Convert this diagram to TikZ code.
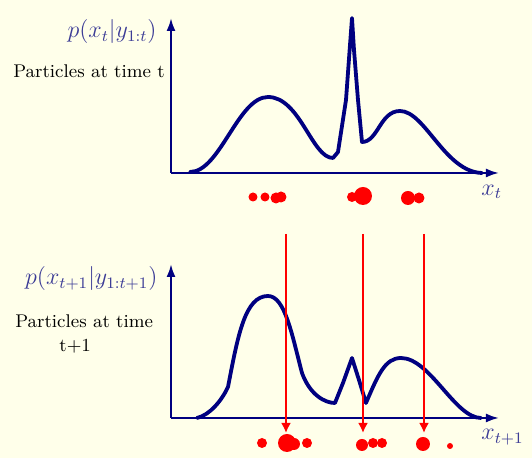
\documentclass[tikz,border=0pt]{standalone}
\usetikzlibrary{arrows.meta}
\definecolor{cream}{RGB}{255,255,234}
\definecolor{navy}{RGB}{0,0,128}
\definecolor{lbl}{RGB}{60,60,150}

\begin{document}
\begin{tikzpicture}[x=0.5pt,y=-0.5pt,
  axis/.style={navy, line width=1.1pt, -{Latex[length=6.5pt,width=4.5pt]}},
  density/.style={navy, line width=1.9pt, line join=round, line cap=round},
  particle/.style={circle, fill=red, inner sep=0pt, draw=none},
  move/.style={red, line width=1pt, -{Latex[length=5pt,width=5pt]}},
  axlabel/.style={lbl, inner sep=0pt, font=\fontsize{11.7}{14}\selectfont},
  caption/.style={inner sep=0pt, font=\fontsize{9.2}{12}\selectfont, align=left}]
  \fill[cream] (0,0) rectangle (532,458);

  % time t
  \coordinate (o1) at (171,173);
  \coordinate (y1) at (171,18);
  \coordinate (x1) at (499,173);
  \draw[axis] (o1) -- (y1);
  \draw[axis] (o1) -- (x1);
  \node[axlabel, anchor=east] (py1) at (157,32) {$p(x_t|y_{1:t})$};
  \node[axlabel, anchor=west] (lx1) at (481,192) {$x_t$};
  \node[caption, anchor=west] (cap1) at (13,71) {Particles at time t};
  \draw[density] (190,172) .. controls (220,172) and (238,97) .. (268,97)
    .. controls (300,97) and (312,158) .. (333,158)
    -- (338,152) -- (346,100) -- (350,45) -- (352,18) -- (354,50) -- (358,100) -- (362,142)
    .. controls (378,142) and (380,111) .. (400,111)
    .. controls (425,111) and (445,172) .. (482,173);

  \node[particle, minimum size=4.5pt] (t1) at (253,197) {};
  \node[particle, minimum size=4.5pt] (t2) at (265,197) {};
  \node[particle, minimum size=5.5pt] (t3) at (276,198) {};
  \node[particle, minimum size=5.5pt] (t4) at (281,197) {};
  \node[particle, minimum size=5pt] (t5) at (352,197) {};
  \node[particle, minimum size=9pt] (t6) at (363,196) {};
  \node[particle, minimum size=7pt] (t7) at (408,198) {};
  \node[particle, minimum size=5.5pt] (t8) at (419,198) {};

  % time t+1
  \coordinate (o2) at (171,418);
  \coordinate (y2) at (171,264);
  \coordinate (x2) at (499,418);
  \draw[axis] (o2) -- (y2);
  \draw[axis] (o2) -- (x2);
  \node[axlabel, anchor=east] (py2) at (158,279) {$p(x_{t+1}|y_{1:t+1})$};
  \node[axlabel, anchor=west] (lx2) at (481,437) {$x_{t+1}$};
  \node[caption, anchor=west] (cap2) at (15,334) {Particles at time\\\hspace*{22pt}t+1};
  \draw[density] (197,418) .. controls (210,415) and (222,400) .. (228,387)
    .. controls (238,335) and (245,296) .. (268,296)
    .. controls (285,296) and (292,335) .. (302,373)
    .. controls (310,395) and (325,403) .. (335,403)
    -- (343,383) -- (352,358) -- (359,380) -- (366,403)
    .. controls (378,375) and (385,358) .. (401,358)
    .. controls (430,358) and (455,418) .. (481,418);

  \node[particle, minimum size=5pt] (b1) at (262,443) {};
  \node[particle, minimum size=9pt] (b2) at (287,443) {};
  \node[particle, minimum size=6pt] (b3) at (294,444) {};
  \node[particle, minimum size=5pt] (b4) at (307,443) {};
  \node[particle, minimum size=6pt] (b5) at (362,445) {};
  \node[particle, minimum size=5pt] (b6) at (373,443) {};
  \node[particle, minimum size=5pt] (b7) at (382,443) {};
  \node[particle, minimum size=7pt] (b8) at (423,444) {};
  \node[particle, minimum size=3pt] (b9) at (450,446) {};

  % propagation
  \coordinate (s1) at (286,234);
  \coordinate (s2) at (363,234);
  \coordinate (s3) at (424,234);
  \coordinate (e1) at (286,433);
  \coordinate (e2) at (363,433);
  \coordinate (e3) at (424,433);
  \draw[move] (s1) -- (e1);
  \draw[move, line width=1.4pt] (s2) -- (e2);
  \draw[move] (s3) -- (e3);
\end{tikzpicture}
\end{document}
